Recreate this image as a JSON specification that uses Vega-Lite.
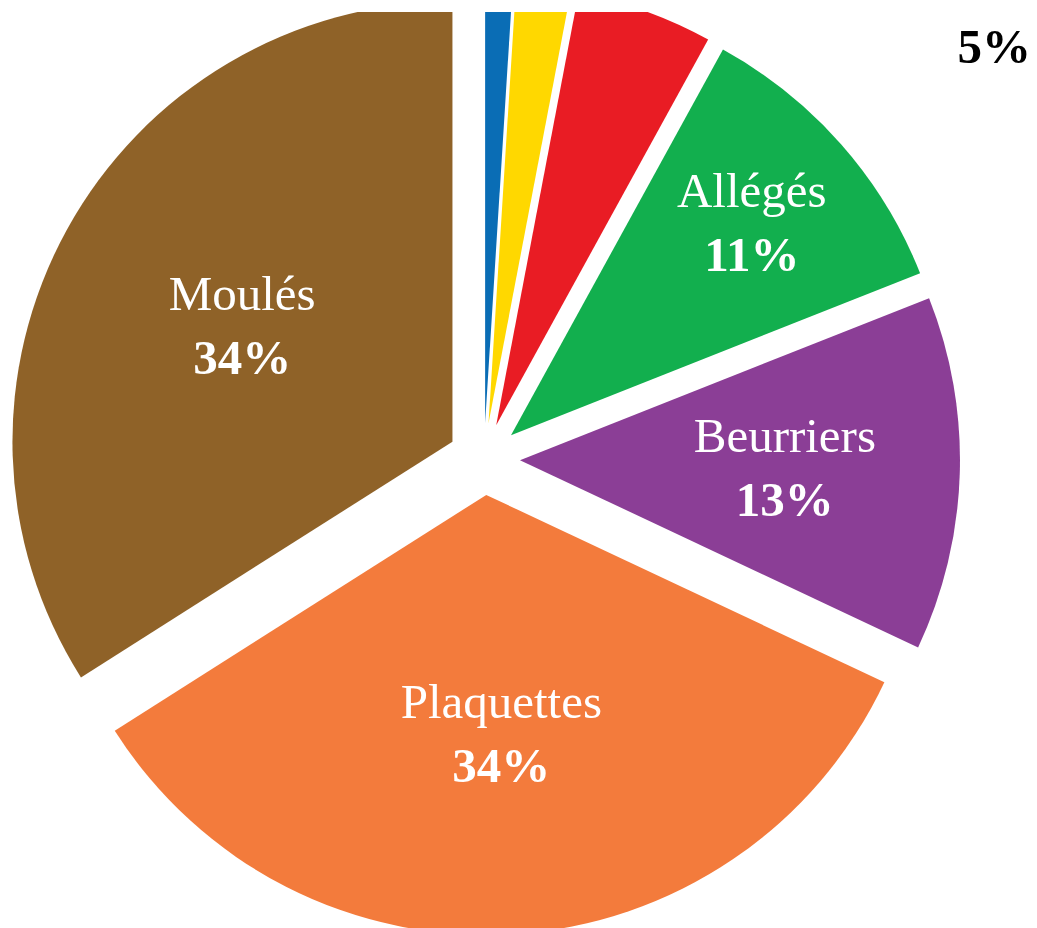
{
  "$schema": "https://vega.github.io/schema/vega-lite/v6.json",
  "width": 1037,
  "height": 916,
  "autosize": {"type": "none"},
  "padding": {"top": 12, "left": 0, "right": 0, "bottom": 0},
  "background": "white",
  "config": {"view": {"stroke": null}},
  "data": {
    "values": [
      {"name": "Catégorie A", "part": 0.01},
      {"name": "Catégorie B", "part": 0.02},
      {"name": "Catégorie C", "part": 0.05},
      {"name": "Allégés", "part": 0.11},
      {"name": "Beurriers", "part": 0.13},
      {"name": "Plaquettes", "part": 0.34},
      {"name": "Moulés", "part": 0.34}
    ]
  },
  "transform": [
    {"window": [{"op": "sum", "field": "part", "as": "cum"}]},
    {"calculate": "datum.cum - datum.part / 2", "as": "mid"},
    {"calculate": "sin(2 * PI * datum.mid)", "as": "ex"},
    {"calculate": "cos(2 * PI * datum.mid)", "as": "ey"}
  ],
  "encoding": {
    "x": {"field": "ex", "type": "quantitative", "scale": {"domain": [-13.4444, 15.3611], "nice": false, "zero": false}, "axis": null},
    "y": {"field": "ey", "type": "quantitative", "scale": {"domain": [-13.0278, 12.4167], "nice": false, "zero": false}, "axis": null}
  },
  "layer": [
    {
      "mark": {"type": "arc", "radius": 440, "clip": true},
      "encoding": {
        "theta": {"field": "part", "type": "quantitative", "stack": true, "scale": {"domain": [0, 1]}},
        "order": {"field": "cum", "type": "quantitative"},
        "color": {
          "field": "name",
          "type": "nominal",
          "scale": {
            "domain": ["Catégorie A", "Catégorie B", "Catégorie C", "Allégés", "Beurriers", "Plaquettes", "Moulés"],
            "range": ["#0A6DB5", "#FFD800", "#E91C24", "#12AF4E", "#8B3E96", "#F37B3C", "#8F6228"]
          },
          "legend": null
        }
      }
    },
    {
      "transform": [{"filter": "datum.part >= 0.1"}],
      "mark": {"type": "text", "font": "Liberation Serif", "fontSize": 49, "color": "white", "baseline": "alphabetic", "align": "center", "dy": -16},
      "encoding": {
        "theta": {"field": "mid", "type": "quantitative", "scale": {"domain": [0, 1]}},
        "radius": {"field": "part", "type": "quantitative", "scale": {"type": "linear", "domain": [0.11, 0.13, 0.34], "range": [321, 265, 240], "zero": false, "nice": false}},
        "text": {"field": "name", "type": "nominal"}
      }
    },
    {
      "transform": [{"filter": "datum.part >= 0.1"}],
      "mark": {"type": "text", "font": "Liberation Serif", "fontSize": 49, "fontWeight": "bold", "color": "white", "baseline": "alphabetic", "align": "center", "dy": 48},
      "encoding": {
        "theta": {"field": "mid", "type": "quantitative", "scale": {"domain": [0, 1]}},
        "radius": {"field": "part", "type": "quantitative", "scale": {"type": "linear", "domain": [0.11, 0.13, 0.34], "range": [321, 265, 240], "zero": false, "nice": false}},
        "text": {"field": "part", "type": "quantitative", "format": ".0%"}
      }
    },
    {
      "transform": [{"filter": "datum.part == 0.05"}],
      "mark": {"type": "text", "font": "Liberation Serif", "fontSize": 49, "fontWeight": "bold", "color": "black", "baseline": "alphabetic", "align": "center", "radius": 440, "dx": 349, "dy": 52},
      "encoding": {
        "theta": {"field": "mid", "type": "quantitative", "scale": {"domain": [0, 1]}},
        "text": {"field": "part", "type": "quantitative", "format": ".0%"}
      }
    }
  ]
}
